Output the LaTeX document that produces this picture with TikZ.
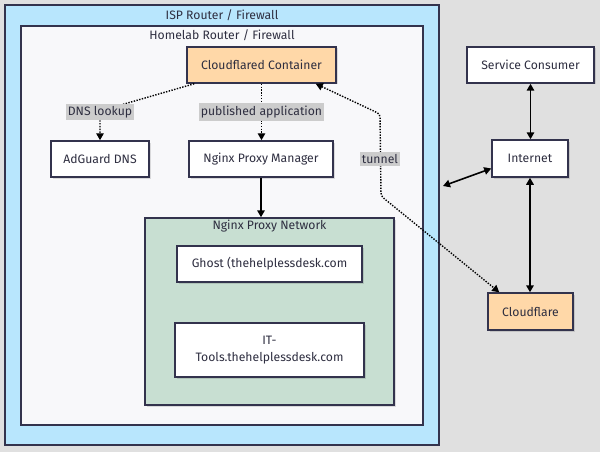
\documentclass[tikz,border=0pt]{standalone}
\usepackage{fontspec}
\setmainfont{Fira Sans}
\usetikzlibrary{arrows.meta,shadows}
\definecolor{bgc}{HTML}{E0E0E0}
\definecolor{ispc}{HTML}{B8E6FD}
\definecolor{labc}{HTML}{F8F8FA}
\definecolor{peach}{HTML}{FFD8A8}
\definecolor{greenc}{HTML}{C8DFD2}
\definecolor{edgec}{HTML}{33334D}
\definecolor{txtc}{HTML}{2E2E40}
\definecolor{tagc}{HTML}{CCCCCC}
\begin{document}
\begin{tikzpicture}[x=1pt,y=-1pt,
  font=\fontsize{12.2}{17}\selectfont, text=txtc,
  >={Triangle[length=7pt, width=7.5pt]},
  region/.style={draw=edgec, line width=1.5pt, inner sep=0pt},
  box/.style={draw=edgec, line width=1.5pt, fill=white, align=center, inner sep=2pt,
    drop shadow={shadow xshift=1.5pt, shadow yshift=-1.5pt, opacity=0.12, fill=black}},
  title/.style={inner sep=1pt},
  tag/.style={fill=tagc, inner xsep=1.5pt, inner ysep=2.5pt, text=txtc},
  dotline/.style={line width=1.4pt, dash pattern=on 1.4pt off 1.4pt, draw=black, rounded corners=3pt},
  solidline/.style={line width=1.6pt, draw=black}
]
\fill[bgc] (0,0) rectangle (600,452);
\useasboundingbox (0,0) rectangle (600,452);

% containers
\node[region, fill=ispc, minimum width=434pt, minimum height=440pt] (isp) at (222,225) {};
\node[title] (ispt) at (222,15) {ISP Router / Firewall};
\node[region, fill=labc, minimum width=402pt, minimum height=399pt] (lab) at (222,225.5) {};
\node[title] (labt) at (222,35) {Homelab Router / Firewall};
\node[region, fill=greenc, minimum width=249pt, minimum height=187pt,
  drop shadow={shadow xshift=1.5pt, shadow yshift=-1.5pt, opacity=0.12, fill=black}] (npn) at (269.5,311.5) {};
\node[title] (npnt) at (269.5,226) {Nginx Proxy Network};

% boxes
\node[box, fill=peach, minimum width=149pt, minimum height=36pt] (cf) at (261.5,65) {Cloudflared Container};
\node[box, minimum width=98pt, minimum height=36pt] (adg) at (100,159) {AdGuard DNS};
\node[box, minimum width=144pt, minimum height=36pt] (npm) at (261,159) {Nginx Proxy Manager};
\node[box, minimum width=185pt, minimum height=36pt] (ghost) at (269.5,264) {Ghost (thehelplessdesk.com};
\node[box, minimum width=189pt, minimum height=54pt] (itt) at (269.5,350) {IT-\\Tools.thehelplessdesk.com};
\node[box, minimum width=127pt, minimum height=36pt] (sc) at (530.5,65) {Service Consumer};
\node[box, minimum width=76pt, minimum height=37pt] (inet) at (530,158.5) {Internet};
\node[box, fill=peach, minimum width=85pt, minimum height=37pt] (cfl) at (530.5,311.5) {Cloudflare};

% connectors inside
\coordinate (dnsbend) at (100,111);
\draw[dotline, ->] ([xshift=8pt]cf.south west) -- (dnsbend) -- (adg.north);
\node[tag] (dnstag) at (100,112) {DNS lookup};
\draw[dotline, ->] (cf.south) -- (cf.south |- npm.north);
\node[tag] (pubtag) at (261.5,112) {published application};
\draw[solidline, ->] (npm.south) -- (npm.south |- npn.north);

% tunnel
\coordinate (tun1) at (380,114);
\coordinate (tun2) at (381,196);
\draw[dotline, <->] ([xshift=-21pt]cf.south east) -- (tun1) -- (tun2) -- ([xshift=12pt]cfl.north west);
\node[tag] (tuntag) at (380,159) {tunnel};

% right side
\coordinate (wan) at (443,186);
\draw[solidline, <->] (sc.south) -- (sc.south |- inet.north);
\draw[solidline, <->] (inet.south) -- (inet.south |- cfl.north);
\draw[solidline, <->] ([yshift=-10pt]inet.west) -- (wan);
\end{tikzpicture}
\end{document}
